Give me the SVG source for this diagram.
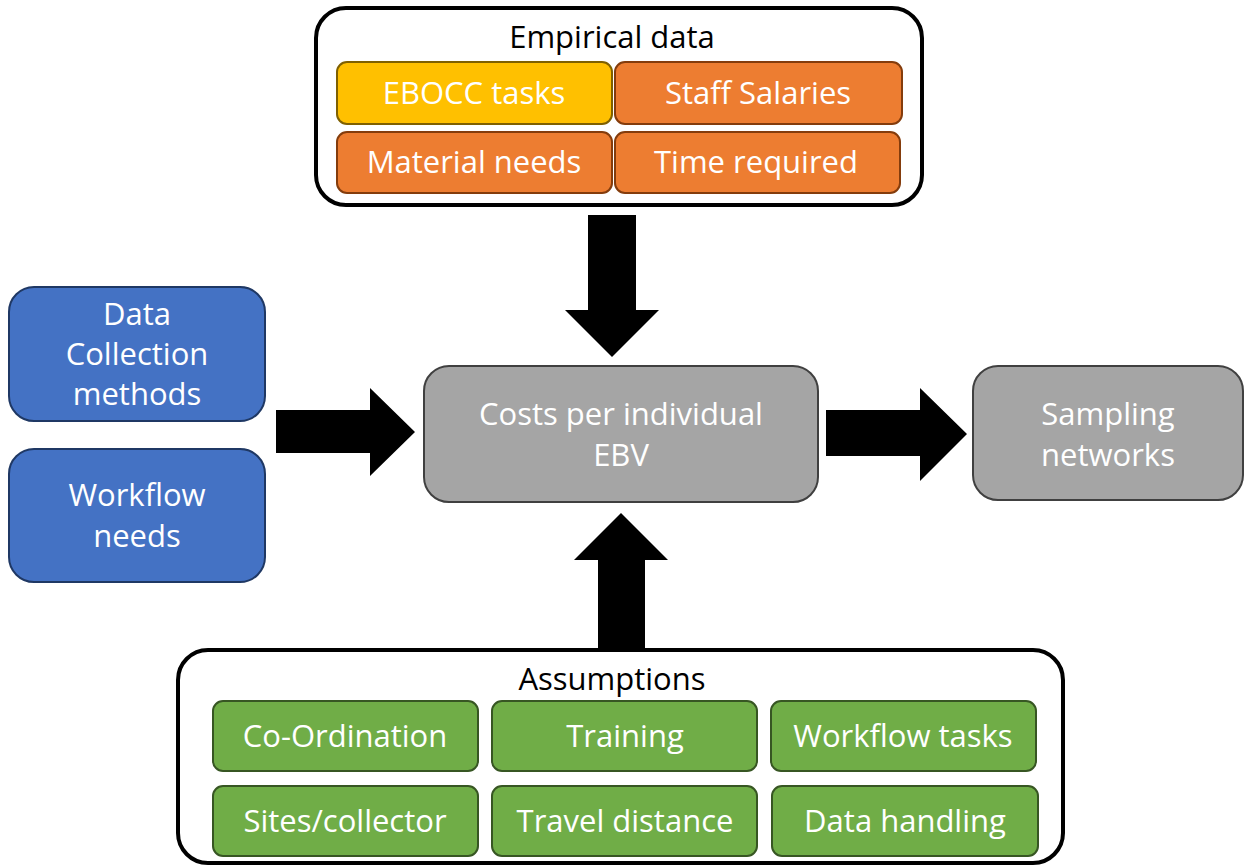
<svg xmlns="http://www.w3.org/2000/svg" width="1245" height="866" viewBox="0 0 1245 866">
<style>
text{font-family:"Open Sans","Liberation Sans",Arial,sans-serif;font-size:31px;text-anchor:middle}
.w{fill:#fff}
.k{fill:#000}
.frame{fill:#fff;stroke:#000;stroke-width:4}
.yel{fill:#FFC000;stroke:#7F6000;stroke-width:2}
.org{fill:#ED7D31;stroke:#843C0C;stroke-width:2}
.blu{fill:#4472C4;stroke:#1F3864;stroke-width:2}
.gry{fill:#A5A5A5;stroke:#404040;stroke-width:2}
.grn{fill:#70AD47;stroke:#375623;stroke-width:2}
.arr{fill:#000}
</style>
<rect width="1245" height="866" fill="#fff"/>
<g id="connectors">
<polygon class="arr" points="588,215 636,215 636,310 659,310 612,357 565,310 588,310"/>
<polygon class="arr" points="276,410 370,410 370,388 415,432 370,476 370,453 276,453"/>
<polygon class="arr" points="826,410 920,410 920,388 967,434 920,481 920,456 826,456"/>
<polygon class="arr" points="598,651 645,651 645,560 668,560 621,513 574,560 598,560"/>
</g>
<g id="empirical">
<rect class="frame" x="316" y="8" width="606" height="197" rx="30"/>
<text class="k" x="612" y="48">Empirical data</text>
<g id="ebocc"><rect class="yel" x="337" y="62" width="275" height="62" rx="10"/><text class="w" x="474" y="104">EBOCC tasks</text></g>
<g id="salaries"><rect class="org" x="615" y="62" width="287" height="62" rx="10"/><text class="w" x="758" y="104">Staff Salaries</text></g>
<g id="material"><rect class="org" x="337" y="132" width="275" height="61" rx="10"/><text class="w" x="474" y="173">Material needs</text></g>
<g id="time"><rect class="org" x="615" y="132" width="285" height="61" rx="10"/><text class="w" x="756" y="173">Time required</text></g>
</g>
<g id="datacollection">
<rect class="blu" x="9" y="287" width="256" height="134" rx="25"/>
<text class="w" x="137" y="325">Data</text>
<text class="w" x="137" y="365">Collection</text>
<text class="w" x="137" y="405">methods</text>
</g>
<g id="workflow">
<rect class="blu" x="9" y="449" width="256" height="133" rx="25"/>
<text class="w" x="137" y="506">Workflow</text>
<text class="w" x="137" y="547">needs</text>
</g>
<g id="costs">
<rect class="gry" x="424" y="366" width="394" height="136" rx="25"/>
<text class="w" x="621" y="425">Costs per individual</text>
<text class="w" x="621" y="466">EBV</text>
</g>
<g id="sampling">
<rect class="gry" x="973" y="366" width="270" height="134" rx="25"/>
<text class="w" x="1108" y="425">Sampling</text>
<text class="w" x="1108" y="466">networks</text>
</g>
<g id="assumptions">
<rect class="frame" x="178" y="650" width="885" height="213" rx="30"/>
<text class="k" x="612" y="690">Assumptions</text>
<g id="coord"><rect class="grn" x="213" y="701" width="265" height="70" rx="10"/><text class="w" x="345" y="747">Co-Ordination</text></g>
<g id="training"><rect class="grn" x="492" y="701" width="265" height="70" rx="10"/><text class="w" x="625" y="747">Training</text></g>
<g id="wftasks"><rect class="grn" x="771" y="701" width="265" height="70" rx="10"/><text class="w" x="903" y="747">Workflow tasks</text></g>
<g id="sites"><rect class="grn" x="213" y="786" width="265" height="70" rx="10"/><text class="w" x="345" y="832">Sites/collector</text></g>
<g id="travel"><rect class="grn" x="492" y="786" width="265" height="70" rx="10"/><text class="w" x="625" y="832">Travel distance</text></g>
<g id="handling"><rect class="grn" x="772" y="786" width="266" height="70" rx="10"/><text class="w" x="905" y="832">Data handling</text></g>
</g>
</svg>
